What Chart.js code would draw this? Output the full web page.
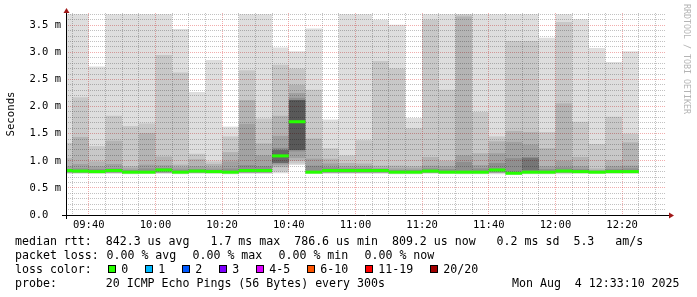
<!DOCTYPE html>
<html>
<head>
<meta charset="utf-8">
<title>smokeping median rtt</title>
<script src="https://cdn.jsdelivr.net/npm/chart.js@4.4.1/dist/chart.umd.min.js"></script>
<style>
  html, body { margin: 0; padding: 0; background: #fff; }
  #wrap { position: relative; width: 697px; height: 297px; overflow: hidden; }
  #chart { position: absolute; left: 0; top: 0; }
  .mono { font-family: 'DejaVu Sans Mono', monospace; color: #000; }
  #legend { position: absolute; left: 15px; top: 234px; width: 680px; font-size: 11.6px; }
  #legend .row { position: relative; height: 14px; line-height: 14px; white-space: pre; }
  #legend .item { position: absolute; top: 0; }
  #legend .box { position: absolute; top: 3px; width: 6px; height: 6px; border: 1px solid #000; }
  #credit { position: absolute; left: 681px; top: 4px; writing-mode: vertical-rl; font-size: 8.3px;
            line-height: 12px; color: #b4b4b4; white-space: pre; }
</style>
</head>
<body>
<div id="wrap">
  <canvas id="chart" width="697" height="297"></canvas>
  <div id="credit" class="mono">RRDTOOL / TOBI OETIKER</div>
  <div id="legend" class="mono">
    <div class="row">median rtt:  842.3 us avg   1.7 ms max  786.6 us min  809.2 us now   0.2 ms sd  5.3   am/s</div>
    <div class="row">packet loss:<span class="item" style="left:91.5px">0.00 % avg</span><span class="item" style="left:177.5px">0.00 % max</span><span class="item" style="left:263.5px">0.00 % min</span><span class="item" style="left:349.5px">0.00 % now</span></div>
    <div class="row" id="lossRow">loss color:</div>
    <div class="row">probe:       20 ICMP Echo Pings (56 Bytes) every 300s<span class="item" style="left:497px">Mon Aug  4 12:33:10 2025</span></div>
  </div>
</div>
<script>
"use strict";

// debut de chaque pas de 5 min (le premier est coupe par le bord gauche)
const slotStart = [
  "09:30", "09:35", "09:40", "09:45", "09:50", "09:55",
  "10:00", "10:05", "10:10", "10:15", "10:20", "10:25",
  "10:30", "10:35", "10:40", "10:45", "10:50", "10:55",
  "11:00", "11:05", "11:10", "11:15", "11:20", "11:25",
  "11:30", "11:35", "11:40", "11:45", "11:50", "11:55",
  "12:00", "12:05", "12:10", "12:15", "12:20"
];

// fumee : bandes [bas, haut] en ms, de la plus large (min..max) a la plus serree
const smoke1 = [
  [0.76, 3.70], [0.76, 3.70], [0.76, 2.74], [0.76, 3.70], [0.75, 3.70], [0.76, 3.70], [0.76, 3.70],
  [0.75, 3.43], [0.76, 2.27], [0.76, 2.86], [0.75, 1.63], [0.76, 3.70], [0.76, 3.70], [0.77, 3.09],
  [0.92, 3.02], [0.76, 3.44], [0.76, 1.76], [0.76, 3.70], [0.76, 3.70], [0.76, 3.60], [0.75, 3.51],
  [0.75, 1.79], [0.76, 3.70], [0.76, 3.70], [0.75, 3.70], [0.75, 3.70], [0.75, 3.70], [0.74, 3.70],
  [0.75, 3.70], [0.75, 3.27], [0.75, 3.70], [0.76, 3.61], [0.76, 3.08], [0.76, 2.82], [0.76, 3.02]
];
const smoke2 = [
  [0.77, 1.33], [0.77, 2.17], [0.77, 1.27], [0.77, 1.83], [0.77, 1.64], [0.77, 1.69], [0.77, 2.95],
  [0.77, 2.63], [0.77, 1.13], [0.77, 0.99], [0.77, 1.45], [0.77, 2.67], [0.77, 1.78], [0.80, 2.77],
  [0.95, 2.70], [0.77, 2.31], [0.77, 1.23], [0.77, 1.10], [0.77, 1.38], [0.77, 2.84], [0.77, 2.70],
  [0.77, 1.60], [0.77, 3.60], [0.77, 2.31], [0.77, 3.70], [0.77, 1.90], [0.77, 1.45], [0.77, 3.21],
  [0.77, 3.21], [0.77, 1.53], [0.77, 3.56], [0.77, 1.72], [0.77, 1.31], [0.77, 1.81], [0.77, 1.50]
];
const smoke3 = [
  [0.775, 1.05], [0.775, 1.44], [0.775, 0.99], [0.775, 1.37], [0.775, 0.90], [0.775, 1.51], [0.775, 1.08],
  [0.775, 0.93], [0.775, 1.03], [0.775, 0.94], [0.775, 1.16], [0.775, 2.12], [0.775, 1.32], [0.88, 1.83],
  [1.00, 2.40], [0.775, 1.41], [0.775, 1.04], [0.775, 0.96], [0.775, 0.95], [0.775, 0.91], [0.775, 0.91],
  [0.775, 0.90], [0.775, 1.07], [0.775, 1.00], [0.775, 3.66], [0.775, 1.14], [0.775, 1.36], [0.775, 1.55],
  [0.775, 1.53], [0.775, 1.23], [0.775, 2.06], [0.775, 1.07], [0.775, 0.86], [0.775, 1.01], [0.775, 1.34]
];
const smoke4 = [
  [0.78, 0.90], [0.78, 0.94], [0.78, 0.90], [0.78, 0.94], [0.78, 0.86], [0.78, 0.93], [0.78, 0.92],
  [0.78, 0.88], [0.78, 0.90], [0.78, 0.88], [0.78, 0.99], [0.78, 1.68], [0.78, 1.10], [0.92, 1.46],
  [1.05, 2.25], [0.78, 1.04], [0.78, 0.95], [0.78, 0.90], [0.78, 0.90], [0.78, 0.87], [0.78, 0.86],
  [0.78, 0.86], [0.78, 0.91], [0.78, 0.90], [0.78, 1.10], [0.78, 0.92], [0.78, 1.14], [0.78, 1.35],
  [0.78, 1.30], [0.78, 0.90], [0.78, 1.00], [0.78, 0.90], [0.78, 0.83], [0.78, 0.90], [0.78, 0.91]
];
const smoke5 = [
  [0.785, 0.85], [0.785, 0.86], [0.785, 0.85], [0.785, 0.86], [0.785, 0.83], [0.785, 0.86], [0.785, 0.87],
  [0.785, 0.84], [0.785, 0.85], [0.785, 0.84], [0.785, 0.86], [0.785, 0.92], [0.785, 0.90], [0.95, 1.24],
  [1.17, 2.16], [0.785, 0.91], [0.785, 0.88], [0.785, 0.86], [0.785, 0.86], [0.785, 0.84], [0.785, 0.83],
  [0.785, 0.83], [0.785, 0.86], [0.785, 0.85], [0.785, 0.98], [0.785, 0.86], [0.785, 0.96], [0.785, 1.05],
  [0.785, 1.06], [0.785, 0.85], [0.785, 0.88], [0.785, 0.85], [0.785, 0.81], [0.785, 0.85], [0.785, 0.86]
];
// coeur sombre, seulement la ou il se voit
const smokeCore = [
  null, null, null, null, null, null, null, null, null, null, null, null, null, [0.96, 1.20],
  [1.20, 2.12], null, null, null, null, null, null, null, null, null, null, null, null, null,
  [0.82, 1.06], null, null, null, null, null, null
];
const coreShade = [
  0, 0, 0, 0, 0, 0, 0, 0, 0, 0, 0, 0, 0, 0.28,
  0.38, 0, 0, 0, 0, 0, 0, 0, 0, 0, 0, 0, 0, 0,
  0.18, 0, 0, 0, 0, 0, 0
];

// mediane en ms
const median = [
  0.82, 0.81, 0.80, 0.82, 0.79, 0.79, 0.83, 0.79, 0.81, 0.80, 0.79, 0.82, 0.82, 1.09,
  1.72, 0.79, 0.82, 0.82, 0.82, 0.82, 0.79, 0.79, 0.81, 0.79, 0.79, 0.79, 0.83, 0.77,
  0.79, 0.79, 0.81, 0.80, 0.79, 0.80, 0.80
];

const xTickLabels = ["09:40", "10:00", "10:20", "10:40", "11:00", "11:20", "11:40", "12:00", "12:20"];
const yTickLabels = ["0.0  ", "0.5 m", "1.0 m", "1.5 m", "2.0 m", "2.5 m", "3.0 m", "3.5 m"];

const lossLabels = ["0", "1", "2", "3", "4-5", "6-10", "11-19", "20/20"];
const lossColors = ["#26ff00", "#00b8ff", "#0059ff", "#7e00ff", "#dd00ff", "#ff5500", "#ff0000", "#a10000"];

// fenetre de 3 h : 09:33:10 -> 12:33:10
const toMin = (s) => { const p = s.split(":").map(Number); return p[0] * 60 + p[1] + (p[2] || 0) / 60; };
const xMin = toMin("09:33:10");
const xMax = toMin("12:33:10");
const yMax = 3.725;

const xMajor = xTickLabels.map(toMin);
const xTicks = [];
for (let t = 575; t <= xMax; t += 5) xTicks.push(t);
const yTicks = [];
for (let i = 0; i <= 37; i++) yTicks.push(i / 10);

const centers = slotStart.map((s) => toMin(s) + 2.5);
const pts = (arr) => arr.map((r, i) => ({ x: centers[i], y: r }));

const minorGrid = "rgba(120,120,120,0.45)";
const majorGrid = "rgba(225,60,60,0.42)";
const monoFont = "'DejaVu Sans Mono', monospace";

function smokeSet(data, color, order) {
  return {
    data: pts(data),
    backgroundColor: color,
    borderWidth: 0,
    grouped: false,
    barPercentage: 1,
    categoryPercentage: 1,
    inflateAmount: 0,
    order: order,
    clip: { left: 0, top: 0, right: 0, bottom: 0 }
  };
}

// axes + fleches facon rrdtool
const rrdAxes = {
  id: "rrdAxes",
  afterDraw(chart) {
    const { ctx, chartArea: a } = chart;
    ctx.save();
    ctx.strokeStyle = "#000";
    ctx.lineWidth = 1;
    ctx.beginPath();
    ctx.moveTo(a.left - 4, a.bottom + 0.5);
    ctx.lineTo(a.right + 3, a.bottom + 0.5);
    ctx.moveTo(a.left + 0.5, a.bottom + 4);
    ctx.lineTo(a.left + 0.5, a.top - 2);
    ctx.stroke();
    ctx.fillStyle = "#a01818";
    ctx.beginPath();
    ctx.moveTo(a.left + 0.5, a.top - 5);
    ctx.lineTo(a.left - 2.5, a.top);
    ctx.lineTo(a.left + 3.5, a.top);
    ctx.closePath();
    ctx.fill();
    ctx.beginPath();
    ctx.moveTo(a.right + 8, a.bottom + 0.5);
    ctx.lineTo(a.right + 3, a.bottom - 2.5);
    ctx.lineTo(a.right + 3, a.bottom + 3.5);
    ctx.closePath();
    ctx.fill();
    ctx.restore();
  }
};

const ctx = document.getElementById("chart").getContext("2d");
const coreSet = smokeSet(smokeCore, coreShade.map((a) => "rgba(0,0,0," + a + ")"), 1);
const myChart = new Chart(ctx, {
  type: "bar",
  data: {
    datasets: [
      {
        data: pts(median.map((m) => [m - 0.028, m + 0.028])),
        backgroundColor: lossColors[0],
        borderWidth: 0,
        grouped: false,
        barPercentage: 1,
        categoryPercentage: 1,
        inflateAmount: 0,
        order: 0,
        clip: { left: 0, top: 0, right: 0, bottom: 0 }
      },
      coreSet,
      smokeSet(smoke5, "rgba(0,0,0,0.12)", 2),
      smokeSet(smoke4, "rgba(0,0,0,0.10)", 3),
      smokeSet(smoke3, "rgba(0,0,0,0.10)", 4),
      smokeSet(smoke2, "rgba(0,0,0,0.10)", 5),
      smokeSet(smoke1, "rgba(0,0,0,0.13)", 6)
    ]
  },
  options: {
    responsive: false,
    devicePixelRatio: 1,
    animation: false,
    layout: { padding: { top: 13, right: 31, bottom: 0, left: 0 } },
    plugins: { legend: { display: false }, tooltip: { enabled: false } },
    scales: {
      x: {
        type: "linear",
        min: xMin,
        max: xMax,
        offset: false,
        afterBuildTicks: (s) => { s.ticks = xTicks.map((v) => ({ value: v })); },
        afterFit: (s) => { s.height = 82; },
        grid: {
          offset: false,
          drawTicks: false,
          lineWidth: 1,
          color: (c) => (c.tick && xMajor.includes(c.tick.value) ? majorGrid : minorGrid)
        },
        border: { display: false, dash: [1, 1] },
        ticks: {
          autoSkip: false,
          maxRotation: 0,
          padding: 4,
          color: "#000",
          font: { family: monoFont, size: 10.5 },
          callback: (v) => { const i = xMajor.indexOf(v); return i >= 0 ? xTickLabels[i] : ""; }
        }
      },
      y: {
        type: "linear",
        min: 0,
        max: yMax,
        afterBuildTicks: (s) => { s.ticks = yTicks.map((v) => ({ value: v })); },
        afterFit: (s) => { s.width = 66; },
        grid: {
          drawTicks: false,
          lineWidth: 1,
          color: (c) => (c.tick && Math.abs(c.tick.value * 2 - Math.round(c.tick.value * 2)) < 1e-6 ? majorGrid : minorGrid)
        },
        border: { display: false, dash: [1, 1] },
        title: {
          display: true,
          text: "Seconds",
          color: "#000",
          font: { family: monoFont, size: 10.7 },
          padding: { top: 4.4, bottom: 0 }
        },
        ticks: {
          autoSkip: false,
          padding: 5,
          color: "#000",
          font: { family: monoFont, size: 10.5 },
          callback: (v) => {
            const k = Math.round(v * 2);
            return Math.abs(v * 2 - k) < 1e-6 ? yTickLabels[k] : "";
          }
        }
      }
    }
  },
  plugins: [rrdAxes]
});

// ligne des couleurs de perte
const lossRow = document.getElementById("lossRow");
let bx = 93.3;
lossLabels.forEach((lab, i) => {
  const box = document.createElement("span");
  box.className = "box";
  box.style.left = bx + "px";
  box.style.background = lossColors[i];
  lossRow.appendChild(box);
  const txt = document.createElement("span");
  txt.className = "item";
  txt.style.left = (bx + 13) + "px";
  txt.textContent = lab;
  lossRow.appendChild(txt);
  bx += 13 + lab.length * 7 + 17;
});
</script>
</body>
</html>
